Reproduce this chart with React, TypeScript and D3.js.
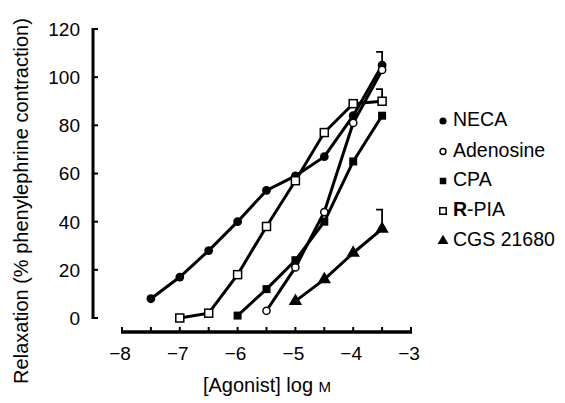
import * as d3 from "d3";
import React, { useEffect, useRef } from "react";

// log molar concentrations for each agonist
const necaX = [-7.5, -7, -6.5, -6, -5.5, -5, -4.5, -4, -3.5];
const necaY = [8, 17, 28, 40, 53, 59, 67, 84, 105];
const adenoX = [-5.5, -5, -4.5, -4, -3.5];
const adenoY = [3, 21, 44, 81, 103];
const cpaX = [-6, -5.5, -5, -4.5, -4, -3.5];
const cpaY = [1, 12, 24, 40, 65, 84];
const rpiaX = [-7, -6.5, -6, -5.5, -5, -4.5, -4, -3.5];
const rpiaY = [0, 2, 18, 38, 57, 77, 89, 90];
const cgsX = [-5, -4.5, -4, -3.5];
const cgsY = [7, 16, 27, 37];

// upper error bars (only shown at top concentration)
const errorBars = [
  { x: -3.5, y: 105, top: 110.5 },
  { x: -3.5, y: 90, top: 95 },
  { x: -3.5, y: 37, top: 45 },
];

const yTicks = [0, 20, 40, 60, 80, 100, 120];
const xTicks = [-8, -7, -6, -5, -4, -3];
const xMinor = [-7.5, -6.5, -5.5, -4.5, -3.5];

type Series = { name: string; xs: number[]; ys: number[]; symbol: string };
const series: Series[] = [
  { name: "NECA", xs: necaX, ys: necaY, symbol: "circleFilled" },
  { name: "Adenosine", xs: adenoX, ys: adenoY, symbol: "circleOpen" },
  { name: "CPA", xs: cpaX, ys: cpaY, symbol: "squareFilled" },
  { name: "R-PIA", xs: rpiaX, ys: rpiaY, symbol: "squareOpen" },
  { name: "CGS 21680", xs: cgsX, ys: cgsY, symbol: "triangle" },
];

const FONT = "'Liberation Sans', Arial, sans-serif";

function drawSymbol(g: any, kind: string, cx: number, cy: number, s: number) {
  if (kind === "circleFilled") {
    g.append("circle").attr("cx", cx).attr("cy", cy).attr("r", s * 0.55).attr("fill", "#000");
  } else if (kind === "circleOpen") {
    g.append("circle").attr("cx", cx).attr("cy", cy).attr("r", s * 0.45)
      .attr("fill", "#fff").attr("stroke", "#000").attr("stroke-width", 1.5);
  } else if (kind === "squareFilled") {
    g.append("rect").attr("x", cx - s / 2).attr("y", cy - s / 2).attr("width", s).attr("height", s).attr("fill", "#000");
  } else if (kind === "squareOpen") {
    g.append("rect").attr("x", cx - s / 2).attr("y", cy - s / 2).attr("width", s).attr("height", s)
      .attr("fill", "#fff").attr("stroke", "#000").attr("stroke-width", 1.5);
  } else {
    const tri = d3.symbol().type(d3.symbolTriangle).size(s * s * 1.2)();
    g.append("path").attr("d", tri).attr("transform", `translate(${cx},${cy})`).attr("fill", "#000");
  }
}

export default function App() {
  const svgRef = useRef<SVGSVGElement>(null);

  useEffect(() => {
    const svg = d3.select(svgRef.current);
    svg.selectAll("*").remove();

    const x = d3.scaleLinear().domain([-8, -3]).range([122, 411]);
    const y = d3.scaleLinear().domain([0, 120]).range([318, 29]);

    // Y axis
    const yAxisX = 93;
    svg.append("line").attr("x1", yAxisX).attr("x2", yAxisX).attr("y1", y(120) - 1).attr("y2", y(0) + 1)
      .attr("stroke", "#000").attr("stroke-width", 3);
    yTicks.forEach((t) => {
      svg.append("line").attr("x1", yAxisX).attr("x2", yAxisX + 5).attr("y1", y(t)).attr("y2", y(t))
        .attr("stroke", "#000").attr("stroke-width", 2);
      svg.append("text").attr("x", 80).attr("y", y(t)).attr("dy", "0.36em").attr("text-anchor", "end")
        .attr("font-family", FONT).attr("font-size", 19).text(t);
    });

    // X axis
    const xAxisY = 332;
    svg.append("line").attr("x1", x(-8) - 1).attr("x2", x(-3) + 1).attr("y1", xAxisY).attr("y2", xAxisY)
      .attr("stroke", "#000").attr("stroke-width", 3.5);
    [...xTicks, ...xMinor].forEach((t) => {
      svg.append("line").attr("x1", x(t)).attr("x2", x(t)).attr("y1", xAxisY).attr("y2", xAxisY - 5)
        .attr("stroke", "#000").attr("stroke-width", 2);
    });
    xTicks.forEach((t) => {
      svg.append("text").attr("x", x(t) - 2).attr("y", 360).attr("text-anchor", "middle")
        .attr("font-family", FONT).attr("font-size", 19).text("\u2212" + Math.abs(t));
    });

    // axis titles
    const xt = svg.append("text").attr("x", 267).attr("y", 392).attr("text-anchor", "middle")
      .attr("font-family", FONT).attr("font-size", 20);
    xt.append("tspan").text("[Agonist] log ");
    xt.append("tspan").attr("font-size", 15).text("M");

    svg.append("text").attr("transform", "translate(28,201) rotate(-90)").attr("text-anchor", "middle")
      .attr("font-family", FONT).attr("font-size", 20).text("Relaxation (% phenylephrine contraction)");

    // error bars
    errorBars.forEach((e) => {
      svg.append("path")
        .attr("d", `M${x(e.x)},${y(e.y)}V${y(e.top)}H${x(e.x) - 6}`)
        .attr("fill", "none").attr("stroke", "#000").attr("stroke-width", 1.8);
    });

    // lines and markers
    const line = d3.line<[number, number]>().x((d) => x(d[0])).y((d) => y(d[1]));
    series.forEach((s) => {
      const pts = s.xs.map((v, i) => [v, s.ys[i]] as [number, number]);
      svg.append("path").attr("d", line(pts)).attr("fill", "none").attr("stroke", "#000").attr("stroke-width", 3);
    });
    series.forEach((s) => {
      const g = svg.append("g");
      s.xs.forEach((v, i) => drawSymbol(g, s.symbol, x(v), y(s.ys[i]), 8));
    });

    // legend
    const legendY = [119, 149.5, 179, 209, 239];
    series.forEach((s, i) => {
      const g = svg.append("g");
      drawSymbol(g, s.symbol, 443, legendY[i] + 2, 6.5);
      const t = svg.append("text").attr("x", 453).attr("y", legendY[i]).attr("dy", "0.36em")
        .attr("font-family", FONT).attr("font-size", 19.5);
      if (s.name === "R-PIA") {
        t.append("tspan").attr("font-weight", "bold").text("R");
        t.append("tspan").text("-PIA");
      } else {
        t.text(s.name);
      }
    });
  }, []);

  return (
    <svg ref={svgRef} width={565} height={403} style={{ display: "block", marginLeft: -8, marginTop: -8 }} />
  );
}
